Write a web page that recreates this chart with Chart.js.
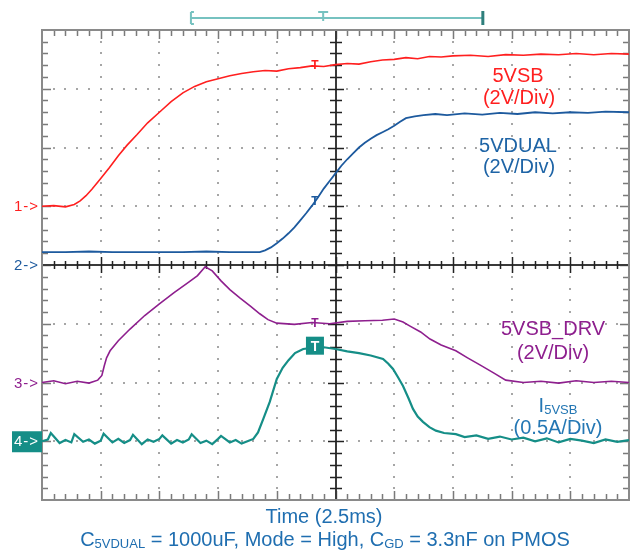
<!DOCTYPE html>
<html>
<head>
<meta charset="utf-8">
<script src="https://cdn.jsdelivr.net/npm/chart.js@4"></script>
<style>
  html, body { margin: 0; padding: 0; background: #fff; }
  #wrap { width: 636px; height: 551px; }
</style>
</head>
<body>
<div id="wrap"><canvas id="js--scope" width="636" height="551"></canvas></div>
<script>
// time in divisions (2.5ms/div), level in divisions (0 = screen centre)
const ch1Time = [0,0.2,0.4,0.55,0.65,0.75,0.85,0.99,1.15,1.3,1.45,1.62,1.8,2.0,2.2,2.4,2.6,2.8,3.0,3.2,3.4,3.6,3.8,4.0,4.2,4.4,4.6,4.8,5.0,5.2,5.4,5.6,5.8,6.0,6.2,6.4,6.6,6.8,7.0,7.3,7.6,7.9,8.2,8.5,8.8,9.1,9.4,9.7,10];
const ch1Level = [1.00,1.01,0.99,1.03,1.09,1.18,1.29,1.46,1.66,1.86,2.04,2.22,2.42,2.60,2.78,2.93,3.04,3.12,3.17,3.22,3.26,3.29,3.31,3.30,3.34,3.36,3.39,3.38,3.41,3.43,3.42,3.46,3.49,3.50,3.53,3.51,3.55,3.54,3.56,3.57,3.55,3.58,3.57,3.59,3.58,3.60,3.58,3.60,3.59];

const ch2Time = [0,0.4,0.8,1.2,1.6,2.0,2.4,2.8,3.2,3.5,3.71,3.8,3.9,4.0,4.1,4.2,4.3,4.4,4.5,4.6,4.7,4.8,4.9,5.0,5.1,5.2,5.3,5.4,5.5,5.6,5.7,5.8,5.9,6.0,6.1,6.2,6.35,6.5,6.7,6.9,7.2,7.5,7.8,8.1,8.4,8.7,9.0,9.3,9.6,10];
const ch2Level = [0.22,0.22,0.23,0.22,0.22,0.22,0.22,0.23,0.22,0.22,0.22,0.25,0.30,0.37,0.45,0.54,0.64,0.76,0.88,1.01,1.15,1.30,1.43,1.56,1.69,1.80,1.90,2.00,2.08,2.15,2.21,2.26,2.31,2.37,2.44,2.50,2.53,2.55,2.57,2.55,2.58,2.56,2.59,2.57,2.60,2.58,2.60,2.59,2.61,2.60];

const ch3Time = [0,0.2,0.4,0.6,0.8,0.95,1.02,1.06,1.1,1.16,1.3,1.5,1.75,2.0,2.25,2.5,2.65,2.78,2.9,3.05,3.2,3.37,3.55,3.71,3.85,4.0,4.3,4.6,4.9,5.2,5.5,5.8,6.0,6.15,6.27,6.45,6.61,6.8,7.05,7.25,7.46,7.7,7.9,8.2,8.5,8.8,9.1,9.4,9.7,10];
const ch3Level = [-2.00,-1.97,-2.02,-1.98,-2.01,-1.96,-1.88,-1.72,-1.58,-1.46,-1.29,-1.09,-0.86,-0.66,-0.47,-0.29,-0.18,-0.03,-0.10,-0.27,-0.42,-0.56,-0.70,-0.83,-0.93,-0.99,-1.01,-0.98,-1.00,-0.96,-0.95,-0.94,-0.92,-0.97,-1.04,-1.14,-1.26,-1.36,-1.46,-1.58,-1.70,-1.84,-1.96,-2.00,-1.98,-2.01,-1.97,-2.00,-1.98,-2.00];

const ch4Time = [0,0.1,0.15,0.3,0.4,0.5,0.55,0.7,0.8,0.9,1.0,1.05,1.2,1.3,1.4,1.5,1.55,1.7,1.8,1.9,2.0,2.05,2.2,2.3,2.4,2.5,2.55,2.7,2.8,2.9,3.0,3.05,3.2,3.3,3.4,3.5,
  3.6,3.68,3.77,3.88,4.0,4.1,4.2,4.31,4.45,4.6,4.8,5.0,5.2,5.4,5.6,5.81,5.9,5.98,6.07,6.15,6.24,6.32,6.4,6.49,6.6,6.71,6.85,7.05,7.2,7.4,7.6,7.8,8.0,8.2,8.4,8.6,8.8,9.0,9.2,9.4,9.6,9.8,10];
const ch4Level = [-3.00,-2.97,-2.86,-3.03,-2.98,-3.02,-2.88,-3.01,-2.97,-3.04,-2.99,-2.87,-3.02,-2.96,-3.03,-2.98,-2.89,-3.05,-2.97,-3.01,-2.96,-2.90,-3.04,-2.98,-3.02,-2.97,-2.88,-3.03,-2.99,-3.05,-2.96,-2.91,-3.02,-2.98,-3.04,-3.00,
  -2.96,-2.85,-2.62,-2.33,-1.94,-1.75,-1.62,-1.50,-1.43,-1.41,-1.40,-1.43,-1.47,-1.50,-1.54,-1.60,-1.68,-1.77,-1.92,-2.06,-2.26,-2.45,-2.58,-2.67,-2.76,-2.82,-2.86,-2.88,-2.93,-2.90,-2.96,-2.92,-2.97,-2.94,-3.00,-2.95,-3.02,-2.96,-2.99,-3.03,-2.97,-3.01,-2.98];

const channelNames = ['5VSB', '5VDUAL', '5VSB_DRV', 'I5VSB'];
const channelScales = ['(2V/Div)', '(2V/Div)', '(2V/Div)', '(0.5A/Div)'];
const channelOffsets = [1, 0, -2, -3];
const triggerTime = 4.65;
const cursorTimes = [2.52, 4.79, 7.51];

const colors = {
  red: '#ff1f1f',
  blue: '#1d5a9e',
  purple: '#8e1f8e',
  teal: '#158e87',
  label: '#1f6eb0'
};

function toPoints(times, levels) {
  return times.map((t, i) => ({ x: t, y: levels[i] }));
}

function levelAt(times, levels, t) {
  for (let i = 1; i < times.length; i++) {
    if (times[i] >= t) {
      const f = (t - times[i - 1]) / (times[i] - times[i - 1]);
      return levels[i - 1] + f * (levels[i] - levels[i - 1]);
    }
  }
  return levels[levels.length - 1];
}

// text with subscripts, centred on cx
function drawParts(ctx, parts, cx, baseline, color) {
  const big = '20px "Liberation Sans", Arial, sans-serif';
  const small = '13px "Liberation Sans", Arial, sans-serif';
  let total = 0;
  parts.forEach(p => {
    ctx.font = p.sub ? small : big;
    total += ctx.measureText(p.t).width;
  });
  let xPos = cx - total / 2;
  ctx.fillStyle = color;
  ctx.textAlign = 'left';
  ctx.textBaseline = 'alphabetic';
  parts.forEach(p => {
    ctx.font = p.sub ? small : big;
    ctx.fillText(p.t, xPos, p.sub ? baseline + 2 : baseline);
    xPos += ctx.measureText(p.t).width;
  });
}

const scopeGrid = {
  id: 'scopeGrid',
  beforeDatasetsDraw(chart) {
    const { ctx, chartArea: a, scales: { x, y } } = chart;
    ctx.save();

    // dotted graticule
    ctx.fillStyle = '#a6a6a6';
    for (let i = 1; i < 10; i++) {
      if (i === 5) continue;
      const px = Math.round(x.getPixelForValue(i));
      for (let k = 1; k < 40; k++) {
        const py = Math.round(y.getPixelForValue(-4 + k * 0.2));
        ctx.fillRect(px - 1, py - 1, 2, 2);
      }
    }
    for (let j = -3; j <= 3; j++) {
      if (j === 0) continue;
      const py = Math.round(y.getPixelForValue(j));
      for (let k = 1; k < 50; k++) {
        const px = Math.round(x.getPixelForValue(k * 0.2));
        ctx.fillRect(px - 1, py - 1, 2, 2);
      }
    }

    // border ticks
    ctx.strokeStyle = '#7a7a7a';
    ctx.lineWidth = 1.5;
    ctx.beginPath();
    for (let k = 1; k < 50; k++) {
      const px = Math.round(x.getPixelForValue(k * 0.2)) + 0.5;
      const len = k % 5 === 0 ? 9 : 6;
      ctx.moveTo(px, a.top); ctx.lineTo(px, a.top + len);
      ctx.moveTo(px, a.bottom); ctx.lineTo(px, a.bottom - len);
    }
    for (let k = 1; k < 40; k++) {
      const py = Math.round(y.getPixelForValue(-4 + k * 0.2)) + 0.5;
      const len = k % 5 === 0 ? 9 : 6;
      ctx.moveTo(a.left, py); ctx.lineTo(a.left + len, py);
      ctx.moveTo(a.right, py); ctx.lineTo(a.right - len, py);
    }
    ctx.stroke();

    // centre cross
    const cx = Math.round(x.getPixelForValue(5));
    const cy = Math.round(y.getPixelForValue(0));
    ctx.strokeStyle = '#3a3a3a';
    ctx.lineWidth = 2;
    ctx.beginPath();
    ctx.moveTo(cx, a.top); ctx.lineTo(cx, a.bottom);
    ctx.moveTo(a.left, cy); ctx.lineTo(a.right, cy);
    ctx.stroke();
    ctx.strokeStyle = '#222';
    ctx.lineWidth = 1.5;
    ctx.beginPath();
    for (let k = 1; k < 50; k++) {
      const px = Math.round(x.getPixelForValue(k * 0.2)) + 0.5;
      const len = k % 5 === 0 ? 8 : 4;
      ctx.moveTo(px, cy - len); ctx.lineTo(px, cy + len);
    }
    for (let k = 1; k < 40; k++) {
      const py = Math.round(y.getPixelForValue(-4 + k * 0.2)) + 0.5;
      const len = k % 5 === 0 ? 8 : 6;
      ctx.moveTo(cx - len, py); ctx.lineTo(cx + len, py);
    }
    ctx.stroke();

    // frame
    ctx.strokeStyle = '#8a8a8a';
    ctx.lineWidth = 2;
    ctx.strokeRect(a.left, a.top, a.right - a.left, a.bottom - a.top);
    ctx.restore();
  },
  afterDraw(chart) {
    const { ctx, chartArea: a, scales: { x, y } } = chart;
    ctx.save();

    // horizontal cursor bracket
    const c0 = x.getPixelForValue(cursorTimes[0]);
    const cT = x.getPixelForValue(cursorTimes[1]);
    const c1 = x.getPixelForValue(cursorTimes[2]);
    ctx.strokeStyle = '#76c2c0';
    ctx.lineWidth = 2;
    ctx.beginPath();
    ctx.moveTo(c0, 18); ctx.lineTo(c1, 18);
    ctx.moveTo(c0 + 1, 12); ctx.lineTo(c0 + 1, 24);
    ctx.moveTo(c0 + 1, 12); ctx.lineTo(c0 + 4, 12);
    ctx.moveTo(c0 + 1, 24); ctx.lineTo(c0 + 4, 24);
    ctx.moveTo(cT - 5, 12); ctx.lineTo(cT + 5, 12);
    ctx.moveTo(cT, 12); ctx.lineTo(cT, 21);
    ctx.stroke();
    ctx.strokeStyle = '#2f7f7c';
    ctx.lineWidth = 3;
    ctx.beginPath();
    ctx.moveTo(c1, 11); ctx.lineTo(c1, 25);
    ctx.stroke();

    // channel ground markers
    const markColors = [colors.red, colors.blue, colors.purple];
    ctx.font = '15px "Liberation Sans", Arial, sans-serif';
    ctx.textAlign = 'right';
    ctx.textBaseline = 'middle';
    ctx.letterSpacing = '1px';
    for (let i = 0; i < 3; i++) {
      ctx.fillStyle = markColors[i];
      ctx.fillText((i + 1) + '->', a.left - 3, y.getPixelForValue(channelOffsets[i]) + 1);
    }
    const y4 = y.getPixelForValue(channelOffsets[3]);
    ctx.fillStyle = colors.teal;
    ctx.fillRect(12, y4 - 10, a.left - 12, 21);
    ctx.fillStyle = '#fff';
    ctx.fillText('4->', a.left - 3, y4 + 1);
    ctx.letterSpacing = '0px';

    // trigger markers
    const tx = x.getPixelForValue(triggerTime);
    ctx.font = 'bold 12px "Liberation Sans", Arial, sans-serif';
    ctx.textAlign = 'center';
    ctx.textBaseline = 'middle';
    ctx.fillStyle = colors.red;
    ctx.fillText('T', tx, y.getPixelForValue(levelAt(ch1Time, ch1Level, triggerTime)));
    ctx.fillStyle = colors.blue;
    ctx.fillText('T', tx, y.getPixelForValue(levelAt(ch2Time, ch2Level, triggerTime)));
    ctx.fillStyle = colors.purple;
    ctx.fillText('T', tx, y.getPixelForValue(levelAt(ch3Time, ch3Level, triggerTime)) + 1);
    const t4 = y.getPixelForValue(levelAt(ch4Time, ch4Level, triggerTime)) - 2;
    ctx.fillStyle = colors.teal;
    ctx.fillRect(tx - 9, t4 - 9, 18, 18);
    ctx.fillStyle = '#fff';
    ctx.font = 'bold 14px "Liberation Sans", Arial, sans-serif';
    ctx.fillText('T', tx, t4 + 1);

    // trace labels
    drawParts(ctx, [{ t: channelNames[0] }], 518, 82, colors.red);
    drawParts(ctx, [{ t: channelScales[0] }], 519, 104, colors.red);
    drawParts(ctx, [{ t: channelNames[1] }], 518, 152, '#1e64a6');
    drawParts(ctx, [{ t: channelScales[1] }], 519, 173, '#1e64a6');
    drawParts(ctx, [{ t: channelNames[2] }], 553, 335, colors.purple);
    drawParts(ctx, [{ t: channelScales[2] }], 553, 359, colors.purple);
    drawParts(ctx, [{ t: 'I' }, { t: channelNames[3].slice(1), sub: true }], 558, 412, '#2477b4');
    drawParts(ctx, [{ t: channelScales[3] }], 558, 434, '#2477b4');

    // captions
    drawParts(ctx, [{ t: 'Time (2.5ms)' }], 324, 523, colors.label);
    drawParts(ctx, [
      { t: 'C' }, { t: '5VDUAL', sub: true },
      { t: ' = 1000uF, Mode = High, C' }, { t: 'GD', sub: true },
      { t: ' = 3.3nF on PMOS' }
    ], 325, 546, colors.label);
    ctx.restore();
  }
};

const ctx = document.getElementById('js--scope');

if (ctx) {
  new Chart(ctx, {
    type: 'scatter',
    data: {
      datasets: [
        { label: channelNames[0], data: toPoints(ch1Time, ch1Level), borderColor: colors.red, borderWidth: 1.6 },
        { label: channelNames[1], data: toPoints(ch2Time, ch2Level), borderColor: colors.blue, borderWidth: 1.8 },
        { label: channelNames[2], data: toPoints(ch3Time, ch3Level), borderColor: colors.purple, borderWidth: 1.6 },
        { label: channelNames[3], data: toPoints(ch4Time, ch4Level), borderColor: colors.teal, borderWidth: 2.2 }
      ].map(d => Object.assign(d, {
        showLine: true,
        pointRadius: 0,
        tension: 0,
        clip: false
      }))
    },
    options: {
      responsive: false,
      animation: false,
      layout: { padding: { left: 42, top: 30, right: 7, bottom: 51 } },
      scales: {
        x: { type: 'linear', min: 0, max: 10, display: false },
        y: { type: 'linear', min: -4, max: 4, display: false }
      },
      plugins: {
        legend: { display: false },
        tooltip: { enabled: false }
      }
    },
    plugins: [scopeGrid]
  });
}
</script>
</body>
</html>
